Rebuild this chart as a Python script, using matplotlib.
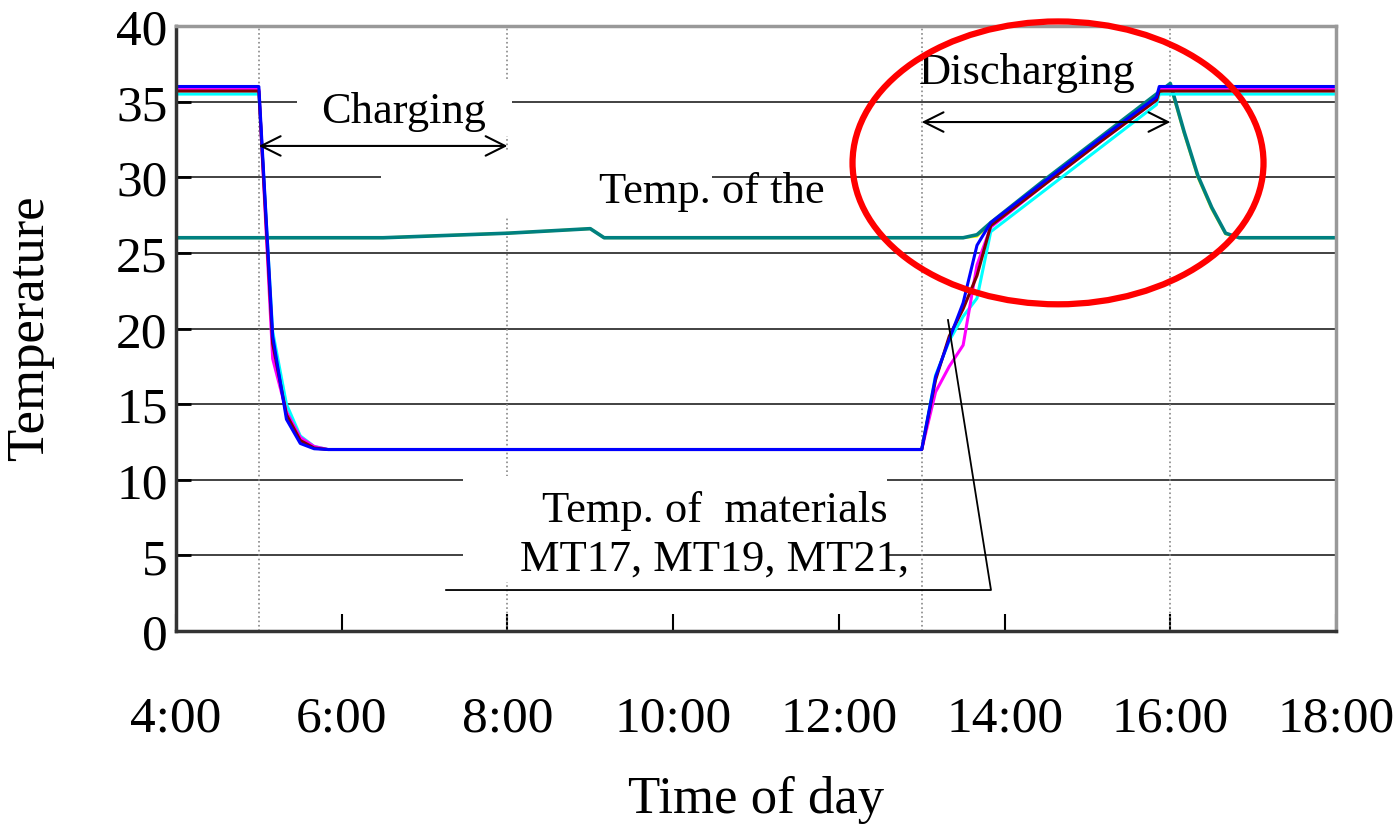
import matplotlib
matplotlib.use("Agg")
import matplotlib.pyplot as plt
from matplotlib.patches import Ellipse, Rectangle
from matplotlib.ticker import FuncFormatter, MultipleLocator

plt.rcParams['font.family'] = ['Liberation Serif', 'DejaVu Serif']

# time of day in hours, material temperatures (deg C)
t_mat = [4.0, 5.0, 5.167, 5.333, 5.5, 5.667, 5.833, 13.0, 13.167, 13.333,
         13.5, 13.667, 13.833, 14.5, 15.167, 15.833, 15.867, 16.0, 18.0]
mt_blue = [36.0, 36.0, 19.5, 14.0, 12.4, 12.05, 12.0, 12.0, 16.8, 19.3,
           21.7, 25.5, 27.0, 29.8, 32.6, 35.3, 36.0, 36.0, 36.0]
mt_magenta = [35.8, 35.8, 18.0, 14.5, 12.8, 12.2, 12.0, 12.0, 15.8, 17.5,
              18.9, 24.2, 26.7, 29.6, 32.4, 35.1, 35.8, 35.8, 35.8]
mt_maroon = [35.7, 35.7, 19.0, 14.3, 12.6, 12.1, 12.0, 12.0, 16.6, 19.5,
             21.3, 23.5, 26.8, 29.6, 32.4, 35.1, 35.7, 35.7, 35.7]
mt_cyan = [35.5, 35.5, 19.8, 15.0, 12.9, 12.2, 12.0, 12.0, 16.9, 19.2,
           20.8, 22.0, 26.4, 29.2, 32.0, 34.8, 35.5, 35.5, 35.5]

# air temperature
t_air = [4.0, 6.5, 7.0, 8.0, 9.0, 9.167, 13.5, 13.667, 13.833, 14.5,
         15.167, 15.833, 16.0, 16.167, 16.333, 16.5, 16.667, 16.833, 18.0]
air = [26.0, 26.0, 26.1, 26.3, 26.6, 26.0, 26.0, 26.2, 27.0, 29.9,
       32.7, 35.5, 36.2, 33.0, 30.1, 28.0, 26.3, 26.0, 26.0]
air2 = [26.0, 26.0, 26.1, 26.3, 26.6, 26.0, 26.0, 26.1, 26.9, 29.8,
        32.6, 35.4, 36.1, 32.9, 30.0, 27.9, 26.25, 26.0, 26.0]

x_ticks = [4, 6, 8, 10, 12, 14, 16, 18]
event_times = [5, 8, 13, 16]

fig = plt.figure(figsize=(14, 8.28), dpi=100)
ax = fig.add_axes([0.1257, 0.2367, 0.8286, 0.7307])

ax.set_xlim(4, 18)
ax.set_ylim(0, 40)
ax.set_axisbelow(True)
ax.yaxis.grid(True, color='#333333', lw=1.3)
for t in event_times:
    ax.axvline(t, color='#888888', ls=':', lw=1.2, zorder=1)

# white boxes behind the labels
ax.add_patch(Rectangle((5.46, 32.7), 2.6, 3.8, facecolor='white', edgecolor='none', zorder=1.5))
ax.add_patch(Rectangle((6.48, 27.3), 3.99, 4.5, facecolor='white', edgecolor='none', zorder=1.5))
ax.add_patch(Rectangle((7.46, 3.24), 5.12, 7.0, facecolor='white', edgecolor='none', zorder=1.5))

ax.plot(t_air, air2, color='#FFFF00', lw=2.0, zorder=2)
ax.plot(t_air, air, color='#008080', lw=2.6, zorder=2)
ax.plot(t_mat, mt_cyan, color='#00FFFF', lw=2.2, zorder=2)
ax.plot(t_mat, mt_magenta, color='#FF00FF', lw=2.2, zorder=2)
ax.plot(t_mat, mt_maroon, color='#800000', lw=2.2, zorder=2)
ax.plot(t_mat, mt_blue, color='#0000FF', lw=2.2, zorder=2)

# annotations
ax.text(6.75, 34.4, 'Charging', fontsize=32, ha='center', va='center', zorder=3)
ax.annotate('', xy=(5.0, 32.07), xytext=(8.0, 32.07),
            arrowprops=dict(arrowstyle='<->', color='black', lw=1.5, mutation_scale=35,
                            shrinkA=0, shrinkB=0), zorder=4)
ax.text(14.27, 36.96, 'Discharging', fontsize=32, ha='center', va='center', zorder=3)
ax.annotate('', xy=(13.0, 33.65), xytext=(16.0, 33.65),
            arrowprops=dict(arrowstyle='<->', color='black', lw=1.5, mutation_scale=35,
                            shrinkA=0, shrinkB=0), zorder=4)
ax.text(10.47, 29.1, 'Temp. of the', fontsize=32, ha='center', va='center', zorder=3)
ax.text(10.5, 6.4, 'Temp. of  materials\nMT17, MT19, MT21,', fontsize=32,
        ha='center', va='center', linespacing=1.25, zorder=3)
leader_x = [7.26, 13.836, 13.317]
leader_y = [2.71, 2.71, 20.56]
ax.plot(leader_x, leader_y, color='black', lw=1.3, zorder=3)

ax.add_patch(Ellipse((14.645, 30.95), 4.96, 18.7, fill=False, edgecolor='#FF0000',
                     lw=4.5, zorder=5, clip_on=False))

# axes styling
ax.set_xticks(x_ticks)
ax.xaxis.set_major_formatter(FuncFormatter(lambda x, p: f"{int(x)}:00"))
ax.yaxis.set_major_locator(MultipleLocator(5))
ax.tick_params(axis='x', direction='in', length=12, width=1.5, labelsize=37, pad=46)
ax.tick_params(axis='y', direction='in', length=11, width=2, labelsize=37, pad=6)
for s in ['left', 'bottom']:
    ax.spines[s].set_color('#333333')
    ax.spines[s].set_linewidth(2.5)
for s in ['top', 'right']:
    ax.spines[s].set_color('#999999')
    ax.spines[s].set_linewidth(2.5)

ax.set_xlabel('Time of day', fontsize=38, va='center')
ax.xaxis.set_label_coords(0.5, -0.278)
ax.set_ylabel('Temperature', fontsize=38, va='center')
ax.yaxis.set_label_coords(-0.126, 0.502)

fig.savefig('out.png', dpi=100)
